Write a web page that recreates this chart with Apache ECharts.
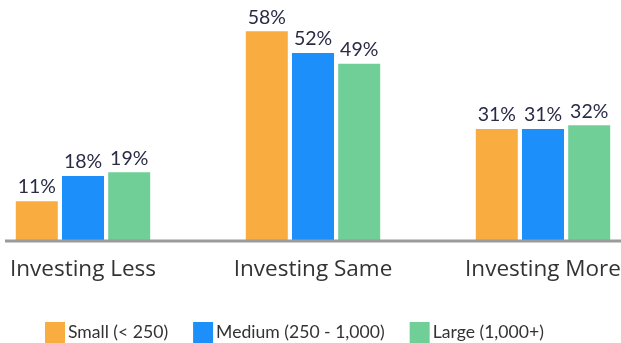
<!DOCTYPE html>
<html><head><meta charset="utf-8">
<script src="https://cdn.jsdelivr.net/npm/echarts@6/dist/echarts.min.js"></script>
<style>html,body{margin:0;padding:0;background:#fff}#c{width:621px;height:343px}</style>
</head><body><div id="c"></div>
<script>
const categories = ['Investing Less', 'Investing Same', 'Investing More'];
const seriesNames = ['Small (< 250)', 'Medium (250 - 1,000)', 'Large (1,000+)'];
const smallVals = [11, 58, 31];
const mediumVals = [18, 52, 31];
const largeVals = [19, 49, 32];
const colors = ['#F9AC3F', '#1D8FFB', '#6FCF97'];
const FONT = 'Lato';
const chart = echarts.init(document.getElementById('c'));
function mk(name, data, color) {
  return {
    name, type: 'bar', data, barWidth: 42, barGap: '10%',
    itemStyle: { color },
    label: { show: true, position: 'top', distance: 4, formatter: '{c}%', color: '#2A2B45', fontSize: 19.5, fontFamily: FONT }
  };
}
chart.setOption({
  animation: false,
  textStyle: { fontFamily: FONT },
  grid: { left: -32, right: -37, top: 24, bottom: 102, outerBoundsMode: 'none', containLabel: false },
  legend: {
    top: 322, left: 45, padding: 0, itemWidth: 20, itemHeight: 21, itemGap: 25, icon: 'rect',
    textStyle: { fontSize: 17.6, color: '#333', fontFamily: FONT, padding: [0, 0, 0, -2] },
    data: seriesNames
  },
  xAxis: {
    type: 'category', data: categories,
    axisLine: { show: false }, axisTick: { show: false },
    axisLabel: { fontSize: 22.5, color: '#333', margin: 17, fontFamily: 'Open Sans' }
  },
  yAxis: { type: 'value', min: 0, max: 60, show: false, splitLine: { show: false } },
  graphic: [{ type: 'line', shape: { x1: 5, y1: 241, x2: 621, y2: 241 }, style: { stroke: '#9B9B9B', lineWidth: 3 }, z: 10 }],
  series: [mk(seriesNames[0], smallVals, colors[0]), mk(seriesNames[1], mediumVals, colors[1]), mk(seriesNames[2], largeVals, colors[2])]
});
</script></body></html>
